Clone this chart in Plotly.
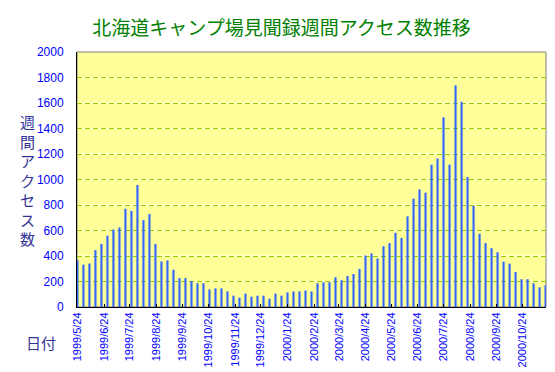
import pandas as pd
import plotly.graph_objects as go

# ---- data ----
start_date = "1999-05-24"
weekly_access = [365, 332, 341, 446, 495, 560, 608, 624, 770, 754,
                 957, 681, 730, 495, 357, 365, 292, 227, 227, 203,
                 186, 186, 138, 146, 146, 122, 89, 73, 105, 81,
                 89, 89, 65, 105, 89, 114, 122, 122, 130, 122,
                 186, 194, 194, 234, 210, 243, 259, 299, 404, 420,
                 380, 477, 501, 582, 542, 711, 849, 922, 897, 1116,
                 1164, 1488, 1116, 1738, 1609, 1019, 792, 574, 501, 461,
                 429, 356, 340, 275, 218, 218, 186, 154, 170]
weeks = pd.date_range(start_date, periods=len(weekly_access), freq="7D")

tick_dates = ["1999-05-24", "1999-06-24", "1999-07-24", "1999-08-24", "1999-09-24",
              "1999-10-24", "1999-11-24", "1999-12-24", "2000-01-24", "2000-02-24",
              "2000-03-24", "2000-04-24", "2000-05-24", "2000-06-24", "2000-07-24",
              "2000-08-24", "2000-09-24", "2000-10-24"]
tick_labels = ["1999/5/24", "1999/6/24", "1999/7/24", "1999/8/24", "1999/9/24",
               "1999/10/24", "1999/11/24", "1999/12/24", "2000/1/24", "2000/2/24",
               "2000/3/24", "2000/4/24", "2000/5/24", "2000/6/24", "2000/7/24",
               "2000/8/24", "2000/9/24", "2000/10/24"]
y_ticks = list(range(0, 2001, 200))

title_text = "北海道キャンプ場見聞録週間アクセス数推移"
y_title = "週間アクセス数"
x_title = "日付"

DAY_MS = 86400000

fig = go.Figure()
fig.add_trace(go.Bar(
    x=weeks, y=weekly_access,
    width=2.5 * DAY_MS,
    marker=dict(color="#3366FF", line=dict(width=0)),
    hoverinfo="x+y",
))

x_lo = weeks[0] - pd.Timedelta(hours=12)
x_hi = weeks[-1] + pd.Timedelta(hours=12)

# white solid lines under the green dashed gridlines
shapes = [dict(type="rect", xref="paper", yref="paper", x0=0, x1=1, y0=0, y1=1,
               line=dict(color="#808080", width=1), layer="below")]
for v in y_ticks[1:-1]:
    shapes.append(dict(type="line", xref="paper", yref="y", x0=0, x1=1, y0=v, y1=v,
                       line=dict(color="white", width=1), layer="below"))

# the page body adds an 8px offset, so the figure is 8px smaller
W, H = 547, 364
fig.update_layout(
    width=W, height=H,
    margin=dict(l=69, r=9, t=44, b=65, autoexpand=False),
    paper_bgcolor="white",
    plot_bgcolor="#FFFF99",
    showlegend=False,
    title=dict(text=title_text, x=0.5, xref="container", xanchor="center",
               y=1 - 20 / H, yref="container", yanchor="middle",
               font=dict(family="Noto Sans CJK JP", size=19, color="#008000")),
    xaxis=dict(type="date", range=[x_lo, x_hi], automargin=False,
               tickmode="array", tickvals=tick_dates, ticktext=tick_labels,
               tickangle=-90, ticks="inside", ticklen=3, tickcolor="black",
               tickfont=dict(family="Liberation Sans", size=11, color="#0000FF"),
               showgrid=False, showline=True, linecolor="black", linewidth=1,
               zeroline=False),
    yaxis=dict(range=[0, 2000], tickmode="array", tickvals=y_ticks, automargin=False,
               ticks="", ticklabelstandoff=10,
               tickfont=dict(family="Liberation Sans", size=12, color="#0000FF"),
               showgrid=True, gridcolor="#99CC00", gridwidth=1, griddash="5px,3px",
               showline=True, linecolor="black", linewidth=1, zeroline=False),
    shapes=shapes,
    annotations=[
        dict(text="<br>".join(list(y_title)), xref="paper", yref="paper",
             x=0, y=0.5, xanchor="center", yanchor="middle", xshift=-50,
             showarrow=False,
             font=dict(family="Noto Sans CJK JP", size=15, color="#333399")),
        dict(text=x_title, xref="paper", yref="paper",
             x=0, y=0, xanchor="center", yanchor="middle", xshift=-36, yshift=-35,
             showarrow=False,
             font=dict(family="Noto Sans CJK JP", size=15, color="#333399")),
    ],
)

fig.write_html("out.html")
